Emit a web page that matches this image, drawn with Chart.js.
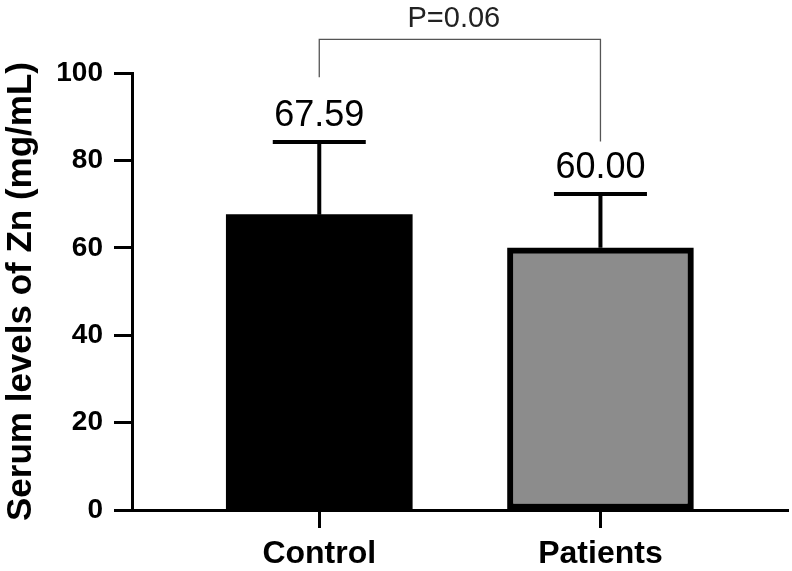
<!DOCTYPE html>
<html>
<head>
<meta charset="utf-8">
<script src="https://cdn.jsdelivr.net/npm/chart.js@4/dist/chart.umd.min.js"></script>
<style>
  html, body { margin: 0; padding: 0; background: #fff; }
  #wrap { width: 792px; height: 571px; }
</style>
</head>
<body>
<div id="wrap"><canvas id="myChart"></canvas></div>
<script>
var groups = ['Control', 'Patients'];
var means = [67.59, 60.00];
var sds = [16.6, 12.3];
var meanLabels = ['67.59', '60.00'];
var yTicks = [0, 20, 40, 60, 80, 100];
var pText = 'P=0.06';

var FONT = "'Liberation Sans', Arial, sans-serif";

// error bars, value labels and the P bracket
var extras = {
  id: 'extras',
  afterDatasetsDraw: function(chart) {
    var c = chart.ctx;
    var xs = chart.scales.x, ys = chart.scales.y;
    c.save();
    c.strokeStyle = '#000';
    c.fillStyle = '#000';
    c.lineWidth = 4;
    for (var i = 0; i < groups.length; i++) {
      var x = xs.getPixelForValue(i);
      var yTop = ys.getPixelForValue(means[i]);
      var yCap = ys.getPixelForValue(means[i] + sds[i]);
      c.beginPath();
      c.moveTo(x, yTop);
      c.lineTo(x, yCap);
      c.moveTo(x - 46.5, yCap);
      c.lineTo(x + 46.5, yCap);
      c.stroke();
      c.font = '36px ' + FONT;
      c.textAlign = 'center';
      c.textBaseline = 'alphabetic';
      c.fillText(meanLabels[i], x, yCap - 16);
    }
    // significance bracket
    var x0 = xs.getPixelForValue(0), x1 = xs.getPixelForValue(1);
    var top = ys.getPixelForValue(107.7);
    c.strokeStyle = '#555';
    c.lineWidth = 1.3;
    c.beginPath();
    c.moveTo(x0, ys.getPixelForValue(99));
    c.lineTo(x0, top);
    c.lineTo(x1, top);
    c.lineTo(x1, ys.getPixelForValue(84.3));
    c.stroke();
    c.fillStyle = '#222';
    c.font = '29px ' + FONT;
    c.fillText(pText, (x0 + x1) / 2 - 6, top - 12);
    c.restore();
  }
};

var ctx = document.getElementById('myChart').getContext('2d');
var myChart = new Chart(ctx, {
  type: 'bar',
  data: {
    datasets: [{
      data: groups.map(function(g, i) { return { x: i, y: means[i] }; }),
      backgroundColor: ['#000000', '#8c8c8c'],
      borderColor: '#000000',
      borderWidth: [0, 6],
      borderSkipped: false,
      barThickness: 186
    }]
  },
  options: {
    responsive: true,
    maintainAspectRatio: false,
    animation: false,
    layout: { padding: { top: 73, right: 4, left: 0, bottom: 0 } },
    plugins: {
      legend: { display: false },
      tooltip: { enabled: false }
    },
    scales: {
      x: {
        type: 'linear',
        min: -0.666,
        max: 1.667,
        offset: false,
        grid: { display: true, offset: false, drawOnChartArea: false, tickLength: 18, tickWidth: 3, tickColor: '#000' },
        border: { display: true, width: 3, color: '#000' },
        afterBuildTicks: function(scale) {
          scale.ticks = groups.map(function(g, i) { return { value: i }; });
        },
        afterFit: function(scale) { scale.height = 61; },
        ticks: {
          color: '#000',
          padding: 7,
          font: { family: FONT, size: 32, weight: 'bold' },
          callback: function(v) { return groups[v]; }
        }
      },
      y: {
        min: 0,
        max: 100,
        grid: { display: true, drawOnChartArea: false, tickLength: 18, tickWidth: 3, tickColor: '#000' },
        border: { display: true, width: 3, color: '#000' },
        afterBuildTicks: function(scale) {
          scale.ticks = yTicks.map(function(v) { return { value: v }; });
        },
        afterFit: function(scale) { scale.width = 132; },
        ticks: {
          color: '#000',
          padding: 11,
          font: { family: FONT, size: 28, weight: 'bold' }
        },
        title: {
          display: true,
          text: 'Serum levels of Zn (mg/mL)',
          color: '#000',
          padding: { top: 0, bottom: 0 },
          font: { family: FONT, size: 35, weight: 'bold' }
        }
      }
    }
  },
  plugins: [extras]
});
</script>
</body>
</html>
